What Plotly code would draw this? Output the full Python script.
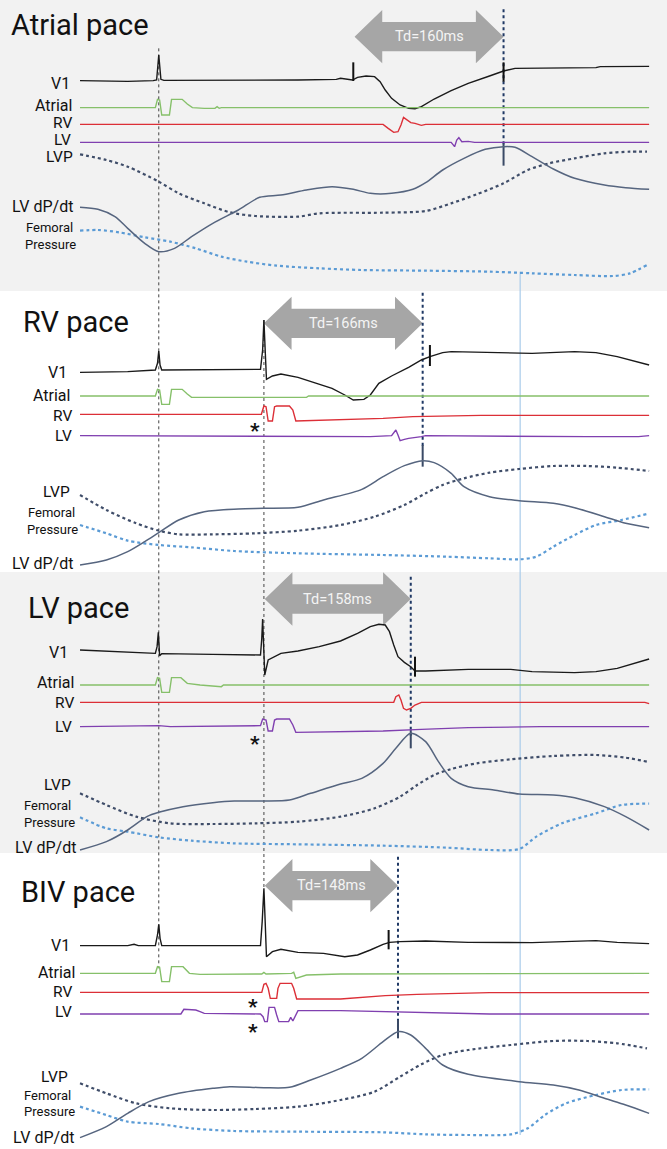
import plotly.graph_objects as go

# ---- layout constants (recording sample units: x = time samples, y = amplitude units, inverted) ----
X_MAX = 1567
Y_MAX = 3447
panel_names = ["Atrial pace", "RV pace", "LV pace", "BIV pace"]
panel_offsets = [0, 870, 1725, 2565]
panel_title_x = [20, 50, 62, 45]
panel_title_y = [74, 97, 100, 110]
td_labels = ["Td=160ms", "Td=166ms", "Td=158ms", "Td=148ms"]
td_start = [833, 620, 622, 622]
td_end = [1183, 993, 965, 935]
td_y = [110, 100, 72, 92]

# ---------------- Atrial pace ----------------
ap_v1_t = [188, 240, 300, 360, 368, 373, 378, 385, 450, 500, 600, 700, 790, 800, 828, 840, 860, 880, 893, 905, 920, 940, 960, 975, 990, 1020, 1060, 1100, 1150, 1183, 1210, 1270, 1300, 1400, 1410, 1450, 1525]
ap_v1_y = [242, 243, 244, 242, 240, 165, 238, 241, 241, 240, 240, 240, 238, 235, 240, 232, 228, 230, 245, 270, 295, 315, 325, 326, 320, 297, 272, 250, 228, 213, 205, 205, 205, 203, 200, 199, 199]
ap_at_t = [188, 365, 370, 375, 380, 398, 403, 428, 440, 452, 480, 505, 510, 515, 520, 1525]
ap_at_y = [323, 323, 298, 300, 345, 345, 298, 298, 312, 323, 325, 325, 320, 325, 323, 323]
ap_rv_t = [188, 900, 912, 925, 935, 942, 948, 955, 965, 975, 990, 1000, 1525]
ap_rv_y = [373, 373, 385, 397, 395, 375, 352, 358, 368, 370, 376, 373, 373]
ap_lv_t = [188, 1060, 1068, 1073, 1078, 1085, 1100, 1115, 1525]
ap_lv_y = [427, 427, 440, 420, 413, 425, 424, 427, 427]
ap_lvp_t = [188, 250, 300, 373, 420, 480, 540, 600, 700, 750, 900, 1000, 1060, 1120, 1183, 1240, 1290, 1350, 1420, 1480, 1520]
ap_lvp_y = [463, 480, 500, 545, 580, 610, 637, 648, 650, 640, 638, 633, 610, 583, 550, 510, 490, 475, 460, 455, 455]
ap_dp_t = [188, 230, 270, 300, 340, 373, 410, 450, 500, 560, 610, 660, 720, 780, 830, 870, 920, 970, 1000, 1040, 1090, 1140, 1183, 1210, 1250, 1300, 1350, 1420, 1470, 1525]
ap_dp_y = [622, 628, 650, 685, 730, 755, 745, 710, 670, 630, 592, 585, 570, 560, 568, 580, 580, 568, 548, 510, 475, 448, 440, 442, 470, 507, 535, 555, 563, 568]
ap_fp_t = [188, 230, 280, 340, 400, 460, 520, 580, 650, 750, 850, 1000, 1150, 1250, 1350, 1440, 1480, 1520]
ap_fp_y = [692, 690, 697, 712, 725, 745, 770, 785, 797, 805, 810, 812, 815, 820, 825, 828, 820, 795]

# ---------------- RV pace ----------------
rv_v1_t = [188, 300, 365, 370, 373, 376, 380, 500, 560, 612, 617, 620, 623, 626, 640, 660, 700, 740, 780, 810, 830, 855, 870, 890, 920, 960, 990, 1010, 1040, 1060, 1150, 1250, 1350, 1400, 1450, 1525]
rv_v1_y = [247, 245, 240, 220, 183, 225, 240, 240, 238, 238, 180, 90, 180, 268, 258, 252, 262, 278, 295, 315, 330, 328, 315, 280, 258, 232, 210, 200, 188, 185, 188, 190, 185, 188, 200, 225]
rv_at_t = [188, 365, 370, 375, 380, 398, 403, 428, 440, 450, 720, 725, 1525]
rv_at_y = [318, 318, 298, 300, 343, 343, 298, 298, 312, 322, 322, 318, 318]
rv_rv_t = [188, 614, 620, 625, 630, 640, 645, 650, 680, 688, 695, 800, 900, 970, 1130, 1525]
rv_rv_y = [373, 373, 348, 350, 393, 393, 350, 348, 348, 360, 393, 390, 385, 380, 376, 376]
rv_lv_t = [188, 870, 920, 925, 930, 935, 940, 950, 960, 990, 1000, 1380, 1500, 1525]
rv_lv_y = [437, 440, 437, 428, 420, 435, 452, 448, 445, 440, 437, 440, 440, 437]
rv_lvp_t = [188, 250, 320, 373, 420, 500, 600, 700, 800, 880, 950, 1000, 1040, 1090, 1150, 1220, 1300, 1380, 1450, 1525]
rv_lvp_y = [615, 660, 700, 722, 733, 733, 730, 722, 705, 680, 645, 610, 585, 565, 548, 537, 528, 528, 533, 543]
rv_dp_t = [188, 250, 300, 340, 373, 420, 480, 560, 620, 700, 760, 850, 900, 950, 993, 1020, 1060, 1090, 1150, 1220, 1300, 1350, 1420, 1470, 1525]
rv_dp_y = [825, 810, 785, 755, 728, 690, 665, 657, 655, 652, 630, 598, 560, 527, 512, 518, 550, 590, 620, 632, 640, 653, 680, 700, 713]
rv_fp_t = [188, 250, 300, 373, 450, 550, 700, 900, 1050, 1150, 1220, 1260, 1300, 1350, 1400, 1460, 1520]
rv_fp_y = [705, 730, 752, 765, 772, 783, 790, 795, 800, 805, 808, 800, 770, 735, 705, 690, 672]

# ---------------- LV pace ----------------
lv_v1_t = [188, 280, 365, 369, 372, 375, 380, 500, 605, 612, 615, 617, 619, 622, 630, 660, 700, 750, 800, 840, 870, 890, 905, 915, 925, 935, 950, 965, 975, 1000, 1100, 1200, 1250, 1350, 1400, 1450, 1525]
lv_v1_y = [225, 230, 235, 215, 172, 242, 236, 238, 238, 240, 190, 132, 200, 300, 255, 235, 228, 215, 198, 175, 155, 148, 150, 170, 210, 245, 262, 275, 288, 288, 283, 283, 290, 293, 290, 280, 252]
lv_at_t = [188, 365, 370, 375, 380, 398, 403, 425, 440, 470, 520, 525, 1525]
lv_at_y = [330, 330, 308, 310, 352, 352, 308, 308, 325, 330, 335, 330, 330]
lv_rv_t = [188, 925, 930, 937, 942, 948, 955, 965, 975, 990, 1515, 1525]
lv_rv_y = [382, 382, 365, 360, 375, 400, 405, 400, 390, 382, 382, 386]
lv_lv_t = [188, 373, 400, 600, 612, 617, 625, 630, 640, 645, 650, 680, 688, 695, 900, 990, 1100, 1270, 1525]
lv_lv_y = [455, 452, 455, 452, 452, 432, 435, 468, 468, 435, 432, 432, 450, 472, 468, 463, 458, 455, 455]
lv_lvp_t = [188, 250, 320, 400, 500, 600, 700, 800, 880, 940, 980, 1020, 1060, 1120, 1200, 1300, 1400, 1470, 1520]
lv_lvp_y = [655, 690, 725, 745, 747, 745, 740, 725, 700, 665, 630, 600, 582, 565, 553, 543, 540, 548, 560]
lv_dp_t = [188, 250, 300, 345, 373, 430, 500, 550, 620, 680, 730, 800, 850, 900, 930, 965, 1000, 1030, 1060, 1100, 1160, 1220, 1300, 1350, 1420, 1470, 1525]
lv_dp_y = [825, 800, 765, 725, 712, 695, 683, 678, 678, 675, 655, 627, 610, 565, 520, 475, 500, 560, 610, 635, 645, 657, 660, 668, 695, 725, 765]
lv_fp_t = [188, 250, 300, 373, 450, 550, 700, 900, 1050, 1150, 1220, 1260, 1320, 1400, 1460, 1525]
lv_fp_y = [727, 760, 770, 787, 797, 805, 808, 812, 818, 825, 822, 785, 745, 715, 690, 686]

# ---------------- BIV pace ----------------
bv_v1_t = [188, 300, 315, 325, 365, 370, 373, 376, 380, 500, 612, 616, 620, 623, 626, 640, 660, 700, 760, 810, 840, 870, 900, 915, 940, 1000, 1100, 1250, 1350, 1400, 1450, 1500, 1525]
bv_v1_y = [272, 272, 268, 272, 272, 240, 208, 250, 272, 272, 272, 200, 100, 200, 305, 290, 283, 292, 295, 305, 300, 285, 268, 262, 260, 258, 262, 263, 260, 257, 262, 266, 266]
bv_at_t = [188, 365, 370, 375, 380, 398, 403, 430, 445, 470, 615, 620, 625, 685, 690, 695, 720, 800, 1525]
bv_at_y = [355, 355, 335, 337, 380, 380, 335, 335, 355, 358, 357, 352, 357, 355, 352, 370, 360, 357, 355]
bv_rv_t = [188, 615, 620, 625, 630, 635, 650, 653, 658, 685, 690, 697, 800, 850, 905, 980, 1150, 1525]
bv_rv_y = [412, 412, 388, 385, 400, 430, 430, 400, 385, 385, 400, 432, 432, 427, 422, 418, 413, 413]
bv_lv_t = [188, 425, 432, 460, 470, 480, 612, 618, 622, 628, 632, 645, 650, 655, 678, 683, 688, 695, 700, 800, 900, 1150, 1525]
bv_lv_y = [477, 477, 463, 465, 470, 475, 477, 485, 500, 500, 457, 457, 480, 500, 500, 487, 498, 480, 467, 467, 470, 477, 477]
bv_lvp_t = [188, 250, 320, 400, 500, 600, 700, 800, 880, 940, 990, 1040, 1100, 1200, 1300, 1380, 1450, 1520]
bv_lvp_y = [685, 715, 745, 760, 765, 762, 755, 735, 710, 665, 628, 600, 585, 570, 558, 558, 565, 580]
bv_dp_t = [188, 250, 300, 350, 420, 500, 540, 620, 680, 730, 800, 850, 900, 935, 965, 1000, 1040, 1100, 1220, 1300, 1360, 1420, 1470, 1525]
bv_dp_y = [848, 815, 775, 740, 715, 700, 695, 698, 697, 675, 640, 610, 560, 530, 540, 580, 630, 658, 680, 690, 705, 730, 750, 775]
bv_fp_t = [188, 250, 300, 373, 450, 550, 700, 900, 1000, 1100, 1200, 1240, 1280, 1330, 1400, 1460, 1525]
bv_fp_y = [755, 780, 800, 807, 820, 828, 830, 832, 838, 840, 838, 820, 780, 745, 720, 705, 703]

# label positions (right edge x, centre y) per panel
label_texts = ["V1", "Atrial", "RV", "LV", "LVP", "LV dP/dt", "Femoral", "Pressure"]
label_sizes = [16, 16, 15.5, 15.5, 15.5, 16, 13, 13]
ap_lab_x = [168, 173, 173, 172, 176, 176, 176, 183]
ap_lab_y = [250, 317, 369, 421, 472, 620, 682, 732]
rv_lab_x = [163, 170, 175, 175, 168, 176, 182, 188]
rv_lab_y = [248, 317, 378, 437, 605, 820, 668, 718]
lv_lab_x = [165, 178, 178, 175, 172, 183, 172, 180]
lv_lab_y = [232, 323, 383, 455, 630, 818, 692, 742]
bv_lab_x = [170, 180, 175, 175, 165, 178, 172, 180]
bv_lab_y = [272, 352, 412, 472, 665, 846, 722, 770]

# marker ticks (x, y_top, y_bottom) local to panel
v1_ticks = [[(830, 187, 243), (1183, 187, 245)], [(1010, 165, 228)], [(975, 245, 305)], [(913, 225, 283)]]
td_line_top = [28, 8, 5, 5]
td_line_bot = [440, 470, 485, 530]
dp_tick = [(430, 497), (465, 530), (465, 520), (495, 550)]
asterisks = [[], [(600, 405)], [(600, 490)], [(595, 437), (595, 512)]]

# global reference lines (x, y_top, y_bottom) in absolute units
atrial_ref = (373, 145, 2905)
vent_ref = (620, 960, 2665)
fem_ref = (1222, 815, 3405)

FONT = "Roboto"
C_V1 = "#1a1a1a"
C_AT = "#86c06a"
C_RV = "#dc2f37"
C_LV = "#8040b0"
C_LVP = "#3f4d69"
C_DP = "#56657f"
C_FP = "#5b9bd5"
C_ARROW = "#a6a6a6"

panels = [
    (ap_v1_t, ap_v1_y, ap_at_t, ap_at_y, ap_rv_t, ap_rv_y, ap_lv_t, ap_lv_y, ap_lvp_t, ap_lvp_y, ap_dp_t, ap_dp_y, ap_fp_t, ap_fp_y, ap_lab_x, ap_lab_y),
    (rv_v1_t, rv_v1_y, rv_at_t, rv_at_y, rv_rv_t, rv_rv_y, rv_lv_t, rv_lv_y, rv_lvp_t, rv_lvp_y, rv_dp_t, rv_dp_y, rv_fp_t, rv_fp_y, rv_lab_x, rv_lab_y),
    (lv_v1_t, lv_v1_y, lv_at_t, lv_at_y, lv_rv_t, lv_rv_y, lv_lv_t, lv_lv_y, lv_lvp_t, lv_lvp_y, lv_dp_t, lv_dp_y, lv_fp_t, lv_fp_y, lv_lab_x, lv_lab_y),
    (bv_v1_t, bv_v1_y, bv_at_t, bv_at_y, bv_rv_t, bv_rv_y, bv_lv_t, bv_lv_y, bv_lvp_t, bv_lvp_y, bv_dp_t, bv_dp_y, bv_fp_t, bv_fp_y, bv_lab_x, bv_lab_y),
]

fig = go.Figure()
shapes = []
annotations = []

# grey panel backgrounds (panels 1 and 3)
shapes.append(dict(type="rect", xref="x", yref="y", x0=0, x1=X_MAX, y0=0, y1=873, fillcolor="#f2f2f2", line_width=0, layer="below"))
shapes.append(dict(type="rect", xref="x", yref="y", x0=0, x1=X_MAX, y0=1716, y1=2559, fillcolor="#f2f2f2", line_width=0, layer="below"))


def line(x, y, color, width=1.4, dash="solid", shape="linear"):
    fig.add_trace(go.Scatter(x=x, y=y, mode="lines", hoverinfo="skip", showlegend=False,
                             line=dict(color=color, width=width, dash=dash, shape=shape, smoothing=0.8 if shape == "spline" else None)))


# reference lines
line([atrial_ref[0]] * 2, [atrial_ref[1], atrial_ref[2]], "#444444", 1, "dot")
line([vent_ref[0]] * 2, [vent_ref[1], vent_ref[2]], "#444444", 1, "dot")
line([fem_ref[0]] * 2, [fem_ref[1], fem_ref[2]], "#a9cbea", 1.2)

for i, p in enumerate(panels):
    off = panel_offsets[i]
    (v1t, v1y, att, aty, rvt, rvy, lvt, lvy, lvpt, lvpy, dpt, dpy, fpt, fpy, labx, laby) = p
    sh = lambda ys: [v + off for v in ys]

    # Td arrow
    xl, xr, yc = td_start[i], td_end[i], td_y[i] + off
    hw, hh, sw = 65, 80, 44
    ax = [xl, xl + hw, xl + hw, xr - hw, xr - hw, xr, xr - hw, xr - hw, xl + hw, xl + hw, xl]
    ay = [yc, yc - hh, yc - sw, yc - sw, yc - hh, yc, yc + hh, yc + sw, yc + sw, yc + hh, yc]
    fig.add_trace(go.Scatter(x=ax, y=ay, mode="lines", fill="toself", fillcolor=C_ARROW,
                             line=dict(color=C_ARROW, width=0), hoverinfo="skip", showlegend=False))
    annotations.append(dict(x=(xl + xr) / 2, y=yc, xref="x", yref="y", text=td_labels[i], showarrow=False,
                            font=dict(family=FONT, size=14.5, color="#f4f4f4"), xanchor="center", yanchor="middle"))

    # Td dotted line + tick on dP/dt
    line([xr, xr], [td_line_top[i] + off, td_line_bot[i] + off], "#1f3864", 2, "dot")
    line([xr, xr], [dp_tick[i][0] + off, dp_tick[i][1] + off], "#3a4a66", 2)

    # traces
    line(v1t, sh(v1y), C_V1, 1.4)
    line(att, sh(aty), C_AT, 1.4)
    line(rvt, sh(rvy), C_RV, 1.4)
    line(lvt, sh(lvy), C_LV, 1.4)
    line(lvpt, sh(lvpy), C_LVP, 2.2, "dot", "spline")
    line(fpt, sh(fpy), C_FP, 2.2, "dot", "spline")
    line(dpt, sh(dpy), C_DP, 1.5, "solid", "spline")

    for (tx, t0, t1) in v1_ticks[i]:
        line([tx, tx], [t0 + off, t1 + off], "#111111", 2)

    for (sx, sy) in asterisks[i]:
        annotations.append(dict(x=sx, y=sy + off + 18, xref="x", yref="y", text="<b>*</b>", showarrow=False,
                                font=dict(family=FONT, size=21, color="#111111"), xanchor="center", yanchor="middle"))

    # labels
    for j, txt in enumerate(label_texts):
        annotations.append(dict(x=labx[j], y=laby[j] + off, xref="x", yref="y", text=txt, showarrow=False,
                                font=dict(family=FONT, size=label_sizes[j], color="#111111"),
                                xanchor="right", yanchor="middle"))

    # title
    annotations.append(dict(x=panel_title_x[i], y=panel_title_y[i] + off, xref="x", yref="y", text=panel_names[i],
                            showarrow=False, font=dict(family=FONT, size=29, color="#111111"),
                            xanchor="left", yanchor="middle"))

fig.update_layout(
    width=667, height=1149, margin=dict(l=0, r=0, t=0, b=0),
    paper_bgcolor="white", plot_bgcolor="white",
    xaxis=dict(range=[0, X_MAX], visible=False, fixedrange=True),
    yaxis=dict(range=[Y_MAX, 0], visible=False, fixedrange=True),
    shapes=shapes, annotations=annotations,
)
fig.write_html("out.html", config={"displayModeBar": False})

# remove the browser's default page margin so the figure sits at the window origin
with open("out.html", "r", encoding="utf-8") as f:
    html = f.read()
html = html.replace("<head>", "<head><style>html,body{margin:0;padding:0;overflow:hidden;}</style>", 1)
with open("out.html", "w", encoding="utf-8") as f:
    f.write(html)
